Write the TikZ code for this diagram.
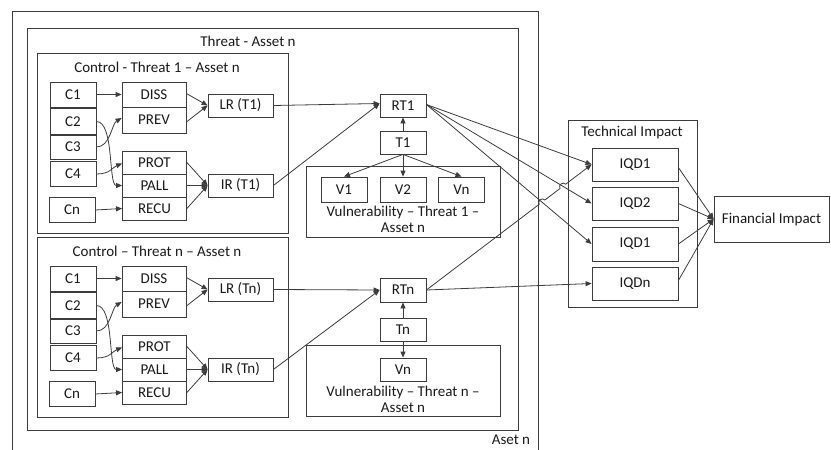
\documentclass[tikz,border=0pt]{standalone}
\usepackage{fontspec}
\setmainfont{Carlito}
\usetikzlibrary{arrows.meta,calc}
\definecolor{lc}{HTML}{3C3C3C}
\definecolor{tc}{HTML}{1A1A1A}
\newcommand\diagfont{\fontsize{15}{16}\selectfont}
\begin{document}
\begin{tikzpicture}[x=1pt,y=-1pt,
  frame/.style={draw=lc, line width=0.8pt},
  ttl/.style={inner sep=0pt, font=\diagfont, text=tc},
  box/.style={draw=lc, line width=0.8pt, fill=white, inner sep=0pt, font=\diagfont, text=tc},
  cbox/.style={box, minimum width=46pt, minimum height=25pt},
  mbox/.style={box, minimum width=64pt, minimum height=23pt},
  rbox/.style={box, minimum width=65pt, minimum height=23pt},
  tbox/.style={box, minimum width=46pt, minimum height=23pt},
  qbox/.style={box, minimum width=86pt, minimum height=33pt},
  arr/.style={draw=lc, line width=0.8pt, -{Triangle[length=6pt,width=5pt]}},
]
\useasboundingbox (0,0) rectangle (831,450);

% outer asset frame (open at the bottom edge)
\draw[frame] (12,452) -- (12,11) -- (538,11) -- (538,452);
\node[ttl] (asetn) at (511,440) {Aset n};

% threat frame
\draw[frame] (27,28) rectangle (518,430);
\node[ttl] (threatasset) at (248,41) {Threat - Asset n};

% two control blocks
\foreach \s/\dy/\t/\title in {a/0/T1/{Control - Threat 1 – Asset n}, b/184/Tn/{Control – Threat n – Asset n}}{
  \draw[frame] (37,53+\dy) rectangle (288,233+\dy);
  \node[ttl] (ctitle\s) at (157,67+\dy) {\title};
  \node[cbox] (C1\s) at (73,94.5+\dy) {C1};
  \node[cbox, minimum height=26pt] (C2\s) at (73,121.5+\dy) {C2};
  \node[cbox, minimum height=24pt] (C3\s) at (73,147+\dy) {C3};
  \node[cbox] (C4\s) at (73,174+\dy) {C4};
  \node[cbox] (Cn\s) at (72,210+\dy) {Cn};
  \node[mbox, minimum height=25pt] (DISS\s) at (154,94.5+\dy) {DISS};
  \node[mbox, minimum height=26pt] (PREV\s) at (154,120+\dy) {PREV};
  \node[mbox] (PROT\s) at (154.5,162.5+\dy) {PROT};
  \node[mbox] (PALL\s) at (154.5,185.5+\dy) {PALL};
  \node[mbox] (RECU\s) at (154.5,208.5+\dy) {RECU};
  \node[rbox] (LR\s) at (240.5,105.5+\dy) {LR (\t)};
  \node[rbox] (IR\s) at (240.5,185.5+\dy) {IR (\t)};
  \draw[arr] (C1\s.east) -- (DISS\s.west);
  \draw[arr] (Cn\s.east) -- (RECU\s.west);
  \draw[arr] (C2\s.east) .. controls +(18,0) and +(-14,0) .. (PALL\s.west);
  \draw[arr] (C3\s.east) .. controls +(14,0) and +(-10,6) .. ([yshift=2pt]PREV\s.west);
  \draw[arr] (C4\s.east) .. controls +(14,0) and +(-10,4) .. ([yshift=-1pt]PROT\s.west);
  \draw[arr] ([yshift=1pt]DISS\s.east) -- (LR\s.west);
  \draw[arr] ([yshift=-2pt]PREV\s.east) -- (LR\s.west);
  \draw[arr] (PROT\s.east) -- (IR\s.west);
  \draw[arr] (PALL\s.east) -- (IR\s.west);
  \draw[arr] (RECU\s.east) -- (IR\s.west);
}

% threat 1 with its vulnerabilities
\draw[frame] (306,166) rectangle (500,237);
\node[tbox] (RT1) at (403,105.5) {RT1};
\node[tbox] (T1) at (403,142.5) {T1};
\node[cbox] (V1) at (344,189.5) {V1};
\node[cbox] (V2) at (403,189.5) {V2};
\node[cbox] (Vn) at (461.5,189.5) {Vn};
\node[ttl, align=center] (vt1) at (403,219) {Vulnerability – Threat 1 –\\[0pt]Asset n};
\draw[arr] (T1.north) -- (RT1.south);
\draw[arr] (T1.south) -- (V1.north);
\draw[arr] (T1.south) -- (V2.north);
\draw[arr] (T1.south) -- (Vn.north);
\draw[arr] (LRa.east) -- ([yshift=2pt]RT1.west);
\draw[arr] (IRa.east) -- ([yshift=2pt]RT1.west);

% threat n with its vulnerability
\draw[frame] (306,345) rectangle (500,416);
\node[tbox, minimum height=24pt] (RTn) at (403,290) {RTn};
\node[tbox] (Tn) at (403,329.5) {Tn};
\node[tbox] (Vnn) at (403,369.5) {Vn};
\node[ttl, align=center] (vtn) at (403,399) {Vulnerability – Threat n –\\[0pt]Asset n};
\draw[arr] (Tn.north) -- (RTn.south);
\draw[arr] (Tn.south) -- (Vnn.north);
\draw[arr] (LRb.east) -- (RTn.west);
\draw[arr] (IRb.east) -- (RTn.west);

% technical impact
\draw[frame] (568,120) rectangle (697,307);
\node[ttl] (techimp) at (632,132) {Technical Impact};
\node[qbox] (IQD1) at (635,164.5) {IQD1};
\node[qbox] (IQD2) at (635,203.5) {IQD2};
\node[qbox, minimum height=34pt] (IQD3) at (635,244) {IQD1};
\node[qbox] (IQDn) at (635,283.5) {IQDn};
\node[box, minimum width=115pt, minimum height=46pt] (FI) at (771.5,219) {Financial Impact};

\draw[arr] ([yshift=1pt]RT1.east) -- (IQD1.west);
\draw[arr] ([yshift=1pt]RT1.east) -- (IQD2.west);
\draw[arr] ([yshift=1pt]RT1.east) -- (IQD3.west);
\draw[arr] (RTn.east) -- (IQDn.west);

% RTn to IQD1, hopping over the two lines it crosses
\path (RTn.east) -- (IQD1.west)
  coordinate[pos=0.683] (h1a) coordinate[pos=0.717] (h1b)
  coordinate[pos=0.809] (h2a) coordinate[pos=0.843] (h2b);
\draw[arr] (RTn.east) -- (h1a)
  .. controls ($(h1a)!4pt!90:(h1b)$) and ($(h1b)!4pt!-90:(h1a)$) .. (h1b) -- (h2a)
  .. controls ($(h2a)!4pt!90:(h2b)$) and ($(h2b)!4pt!-90:(h2a)$) .. (h2b) -- (IQD1.west);

\draw[arr] ([yshift=-3pt]IQD1.east) -- (FI.west);
\draw[arr] (IQD2.east) -- (FI.west);
\draw[arr] (IQD3.east) -- (FI.west);
\draw[arr] ([yshift=3pt]IQDn.east) -- (FI.west);
\end{tikzpicture}
\end{document}
